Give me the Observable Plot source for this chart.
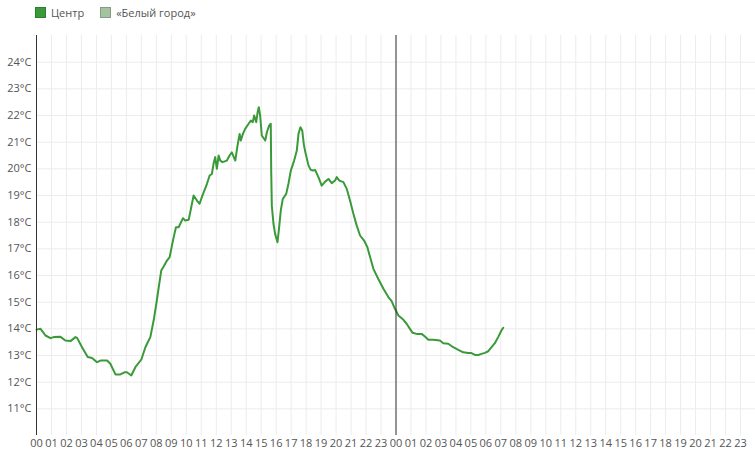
<!DOCTYPE html>
<html>
<head>
<meta charset="utf-8">
<script src="https://cdn.jsdelivr.net/npm/d3@7"></script>
<script src="https://cdn.jsdelivr.net/npm/@observablehq/plot@0.6"></script>
<style>
  html, body { margin: 0; padding: 0; background: #fff; }
  body { width: 755px; height: 451px; overflow: hidden; font-family: "Open Sans", sans-serif; }
  #legend { height: 25px; display: flex; align-items: center; padding-left: 35px; font-size: 11px; color: #555; }
  .item { display: flex; align-items: center; margin-right: 16px; }
  .sw { width: 9px; height: 9px; margin-right: 5px; border: 1px solid; }
</style>
</head>
<body>
<div id="legend"></div>
<div id="chart"></div>
<script>
const seriesNames = ["Центр", "«Белый город»"];
const seriesColors = ["#3a9a3a", "#a3c49f"];
const seriesBorders = ["#2f7d2f", "#8a9a88"];

// Hours since start of first day (0..48), temperature °C — "Центр"
const centerHours = [0, 0.27, 0.6, 0.93, 1.15, 1.6, 1.93, 2.27, 2.6, 2.71, 3.04, 3.42, 3.71, 4.04, 4.27, 4.71, 4.93, 5.27, 5.6, 5.87, 6.04, 6.33, 6.6, 7.0, 7.27, 7.38, 7.6, 7.82, 8.0, 8.16, 8.33, 8.49, 8.71, 8.89, 9.04, 9.16, 9.31, 9.49, 9.6, 9.78, 9.93, 10.16, 10.33, 10.49, 10.71, 10.89, 11.04, 11.16, 11.38, 11.56, 11.71, 11.82, 11.93, 12.04, 12.16, 12.27, 12.42, 12.71, 12.89, 13.04, 13.27, 13.42, 13.56, 13.64, 13.78, 13.93, 14.16, 14.31, 14.44, 14.53, 14.67, 14.76, 14.84, 14.93, 15.04, 15.2, 15.27, 15.38, 15.53, 15.64, 15.67, 15.71, 15.82, 15.93, 16.09, 16.2, 16.31, 16.44, 16.67, 16.82, 16.98, 17.2, 17.38, 17.49, 17.62, 17.74, 17.85, 17.95, 18.16, 18.31, 18.49, 18.6, 18.82, 19.04, 19.27, 19.49, 19.71, 19.93, 20.04, 20.22, 20.49, 20.71, 20.93, 21.16, 21.38, 21.6, 21.87, 22.09, 22.27, 22.49, 22.82, 23.16, 23.49, 23.71, 23.93, 24.16, 24.44, 24.71, 24.93, 25.11, 25.38, 25.71, 25.93, 26.16, 26.49, 26.93, 27.16, 27.49, 27.82, 28.16, 28.49, 28.82, 29.04, 29.27, 29.49, 29.71, 29.93, 30.16, 30.38, 30.6, 30.82, 31.04, 31.16];
const centerTemps = [13.97, 14.0, 13.75, 13.65, 13.69, 13.7, 13.56, 13.54, 13.69, 13.66, 13.31, 12.94, 12.91, 12.75, 12.81, 12.81, 12.69, 12.29, 12.29, 12.37, 12.37, 12.25, 12.56, 12.85, 13.31, 13.44, 13.69, 14.31, 14.94, 15.56, 16.19, 16.34, 16.56, 16.69, 17.12, 17.44, 17.81, 17.81, 17.94, 18.15, 18.06, 18.09, 18.56, 19.0, 18.81, 18.69, 18.94, 19.12, 19.44, 19.75, 19.81, 20.19, 20.44, 20.0, 20.5, 20.31, 20.25, 20.31, 20.5, 20.62, 20.31, 20.87, 21.31, 21.06, 21.31, 21.5, 21.69, 21.81, 21.75, 22.0, 21.75, 22.12, 22.31, 22.0, 21.25, 21.12, 21.06, 21.37, 21.62, 21.69, 19.87, 18.62, 17.94, 17.56, 17.25, 17.81, 18.44, 18.87, 19.06, 19.44, 19.94, 20.31, 20.69, 21.31, 21.56, 21.44, 20.9, 20.62, 20.12, 19.96, 19.94, 19.96, 19.69, 19.37, 19.52, 19.62, 19.46, 19.56, 19.69, 19.56, 19.5, 19.25, 18.81, 18.31, 17.87, 17.5, 17.31, 17.06, 16.69, 16.25, 15.87, 15.5, 15.19, 15.04, 14.75, 14.5, 14.37, 14.19, 14.0, 13.85, 13.81, 13.81, 13.71, 13.59, 13.59, 13.56, 13.46, 13.44, 13.31, 13.21, 13.12, 13.09, 13.09, 13.02, 13.02, 13.06, 13.1, 13.16, 13.31, 13.46, 13.69, 13.94, 14.04];
// "«Белый город»" — no readings shown
const whiteCityHours = [];
const whiteCityTemps = [];

const hourTicks = d3.range(0, 48);
const tempTicks = d3.range(11, 25);
const dayBreaks = [24];

// Legend
const legend = document.getElementById("legend");
seriesNames.forEach((name, i) => {
  const it = document.createElement("div");
  it.className = "item";
  const sw = document.createElement("span");
  sw.className = "sw";
  sw.style.background = seriesColors[i];
  sw.style.borderColor = seriesBorders[i];
  it.appendChild(sw);
  it.appendChild(document.createTextNode(name));
  legend.appendChild(it);
});

const center = centerHours.map((h, i) => ({hour: h, temp: centerTemps[i]}));
const whiteCity = whiteCityHours.map((h, i) => ({hour: h, temp: whiteCityTemps[i]}));

const chart = Plot.plot({
  width: 755,
  height: 426,
  marginLeft: 36,
  marginRight: 0,
  marginTop: 10,
  marginBottom: 16,
  style: {fontFamily: "Open Sans, sans-serif", fontSize: "11px", color: "#555", background: "#fff"},
  x: {domain: [0, 48], axis: null},
  y: {domain: [10, 25], axis: null},
  marks: [
    Plot.ruleX(hourTicks.slice(1), {stroke: "#ececec", strokeWidth: 1}),
    Plot.ruleY(tempTicks, {stroke: "#ececec", strokeWidth: 1}),
    Plot.axisX(hourTicks, {tickSize: 0, tickPadding: 4, label: null, tickFormat: d => String(d % 24).padStart(2, "0"), fill: "#555", fontSize: 11}),
    Plot.axisY(tempTicks, {tickSize: 0, tickPadding: 5, label: null, tickFormat: d => d + "°C", fill: "#555", fontSize: 11}),
    Plot.line(whiteCity, {x: "hour", y: "temp", stroke: seriesColors[1], strokeWidth: 2}),
    Plot.line(center, {x: "hour", y: "temp", stroke: seriesColors[0], strokeWidth: 2, strokeLinejoin: "round"}),
    Plot.ruleX([0], {stroke: "#333", strokeWidth: 1}),
    Plot.ruleX(dayBreaks, {stroke: "#333", strokeWidth: 1})
  ]
});
document.getElementById("chart").appendChild(chart);
</script>
</body>
</html>
